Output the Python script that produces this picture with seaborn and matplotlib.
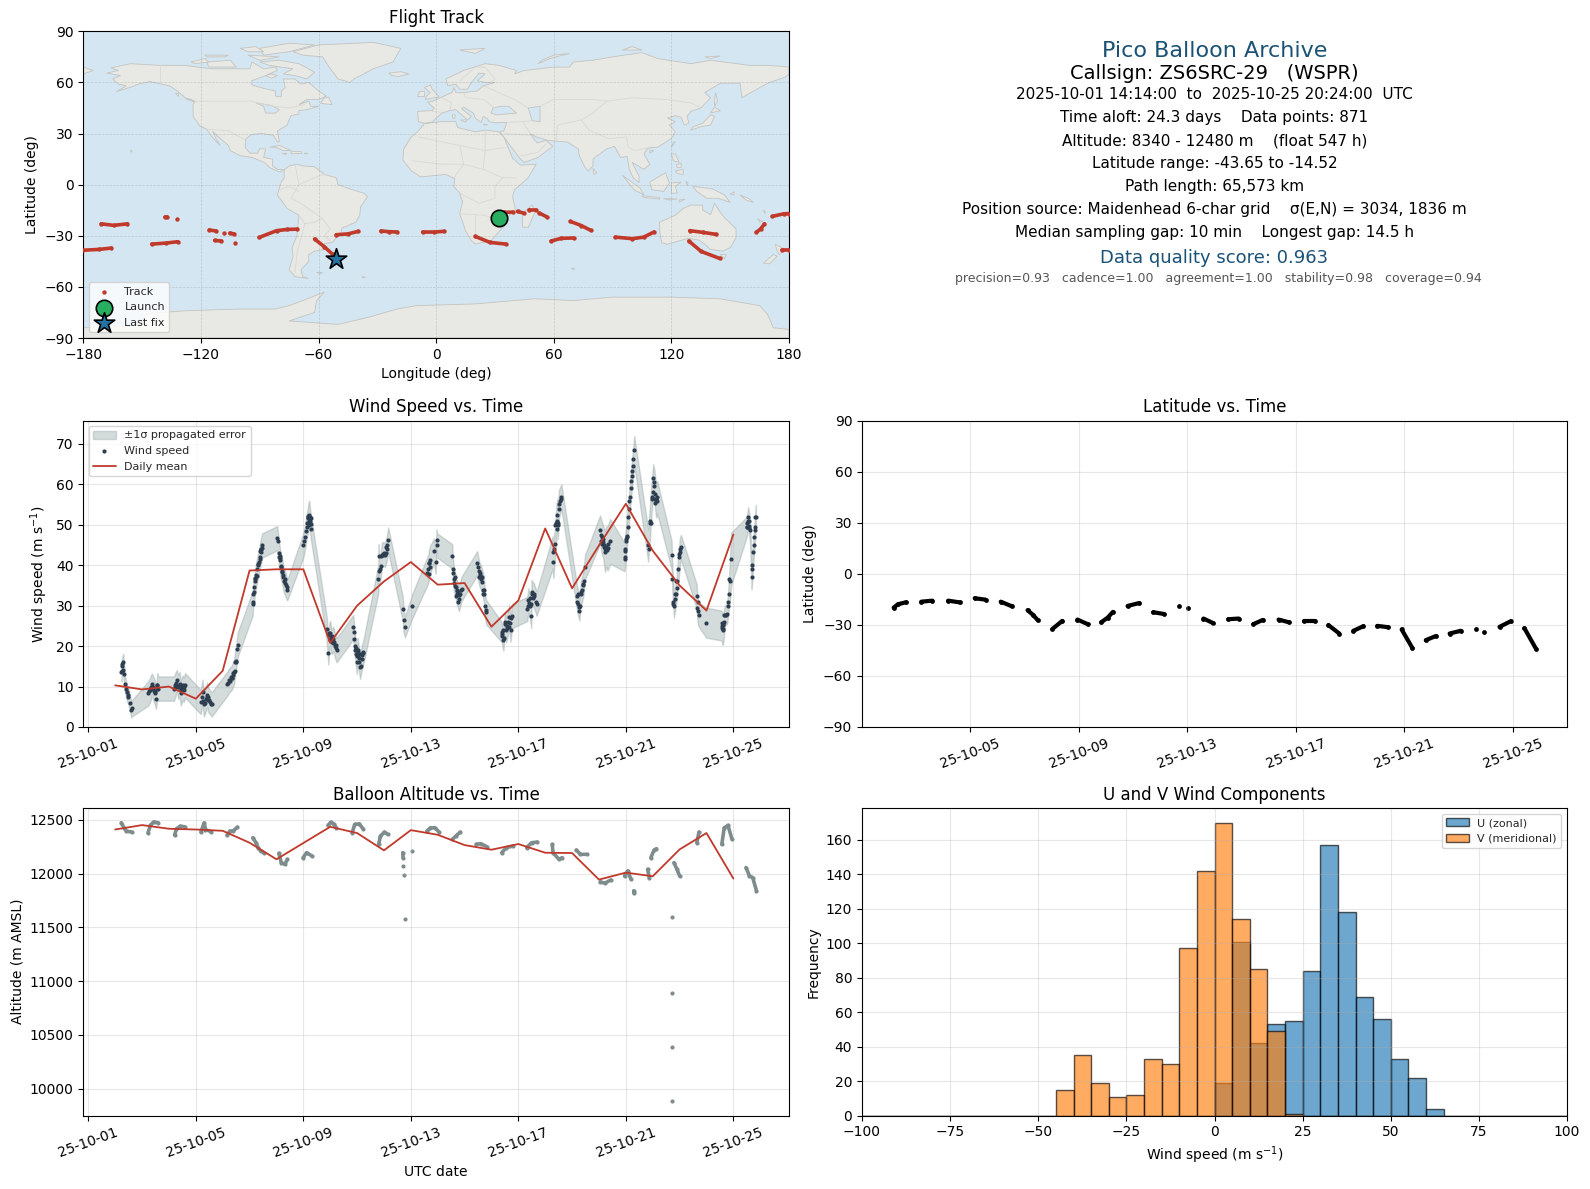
import numpy as np
import pandas as pd
import seaborn as sns
import matplotlib
matplotlib.use("Agg")
import matplotlib.pyplot as plt
import matplotlib.dates as mdates

RED = "#C0392B"
NAVY = "#2C3E50"
GREY = "#7F8C8D"
TITLE_BLUE = "#1A5276"

# flight track, one list per pass (deg)
track_lon = [
    [-180, -172, -165.7], [-170.9, -164.5, -157.5], [-145.1, -138, -131.8], [-138.5, -137.5], [-132],
    [-115.8, -112.3], [-108.3], [-105.3, -103], [-113, -109.5], [-102.5],
    [-90.3, -81.4, -76, -70.9], [-62, -57, -52.8], [-51, -45, -39.7], [-28.2, -24, -20], [-6.9, -1, 4.1],
    [20, 27.5, 35.7], [34.5, 39.2], [41.5, 44.6], [47.4, 50.9], [52.6, 56.3],
    [68.5, 74, 79], [58.6, 63.8, 70.1], [91.4, 100.1, 105.9, 111.1], [129.4, 136, 143],
    [128.9, 135.2, 144.6], [163.3, 165.5, 167.5], [171.5, 177.4, 180], [176.2, 180],
]
track_lat = [
    [-38.5, -38, -37.2], [-23, -23.9, -23], [-34.9, -34.3, -33.5], [-19, -19], [-20.2],
    [-26.6, -27.2], [-28.4], [-28.4, -29], [-32.7, -33.1], [-34.3],
    [-31, -27, -26.3, -26.1], [-31.9, -36.5, -40.9], [-29.4, -28.9, -27.4], [-27.2, -27.6, -27.8], [-27.8, -27.8, -27.4],
    [-30.4, -33.9, -34.9], [-16.3, -16.1], [-15.7, -16.7], [-15.1, -15.1], [-16.7, -18.8],
    [-21.6, -24, -26.9], [-33.1, -31.5, -31.3], [-30.8, -31.7, -30.8, -27.8], [-27, -28, -29.2],
    [-33.1, -39.2, -43.3], [-28, -26, -23], [-18.6, -17.1, -17], [-38.2, -38.2],
]
launch_lon, launch_lat = 32.2, -19.6
last_lon, last_lat = -51.0, -43.6

# coastline outlines, lon/lat vertices
land_polygons = [
    # North America
    [(-168, 65.5), (-162, 67), (-166, 68.5), (-156, 71), (-141, 70), (-128, 70), (-115, 68), (-108, 68), (-95, 68), (-94, 72), (-88, 68),
     (-82, 69), (-81, 67), (-87, 64), (-94, 61), (-94, 58.5), (-88, 56.5), (-82, 55), (-82, 52), (-79, 51.5), (-79, 55),
     (-77, 57), (-78, 62), (-72, 62), (-69, 59), (-65, 60), (-60, 55), (-56, 52), (-60, 50), (-66, 50), (-70, 47),
     (-65, 49), (-64, 46), (-60, 46), (-66, 44), (-70, 43.5), (-70, 41.5), (-74, 40.5), (-75, 38), (-76, 35), (-81, 31.5),
     (-80, 25.5), (-81, 25), (-83, 29), (-89, 30), (-94, 29.5), (-97, 27), (-97.5, 22), (-95, 18.5), (-91, 18.5), (-90, 21),
     (-87, 21), (-88, 16), (-83.5, 15), (-83.5, 11), (-81, 9), (-77.5, 8.7), (-80, 7.5), (-85, 10), (-87.5, 13), (-94, 16),
     (-100, 17), (-105, 20), (-106, 23), (-112, 29), (-114, 31.5), (-112, 26), (-110, 23), (-112, 25), (-115, 29), (-117, 32.5),
     (-120.5, 34.5), (-124, 40), (-124, 47), (-123, 49), (-128, 51), (-132, 55), (-136, 58), (-146, 60.5), (-152, 59),
     (-155, 57.5), (-163, 54.7), (-158, 58), (-162, 59), (-165, 62), (-161, 64)],
    [(-80, 73), (-70, 71), (-62, 66), (-66, 62), (-72, 64), (-78, 65), (-73, 68), (-85, 70), (-90, 72)],
    [(-117, 72), (-105, 73), (-102, 69), (-116, 69)],
    [(-90, 80), (-75, 83), (-62, 82), (-75, 78), (-88, 76)],
    [(-125, 72), (-118, 74), (-116, 72), (-123, 71)],
    [(-96, 76), (-80, 75), (-90, 73)],
    [(-118, 76), (-106, 76), (-108, 75), (-117, 75)],
    [(-100, 80), (-92, 81), (-88, 78), (-96, 78)],
    [(-84, 65), (-81, 64), (-84, 62.5), (-87, 64)],
    [(-59, 47.7), (-53, 47), (-55, 51.5), (-57.5, 50.5)],
    [(-73, 78), (-60, 82), (-32, 83.5), (-18, 80), (-22, 72), (-32, 68), (-42, 62), (-44, 60), (-50, 62), (-54, 68), (-58, 75), (-68, 76)],
    [(-85, 22), (-80, 23), (-74, 20), (-78, 20), (-82, 22)],
    [(-74, 19.5), (-69, 19.5), (-68.5, 18.3), (-74, 18.2)],
    [(-78.4, 18.4), (-76.2, 18.2), (-77, 17.8)],
    [(-67.2, 18.5), (-65.6, 18.4), (-66, 18)],
    [(-24, 65.5), (-18, 66.3), (-14, 65), (-19, 63.5), (-22.5, 64)],
    [(-156, 20.2), (-155, 19.7), (-155.6, 19)],
    [(-133, 54), (-131.5, 54), (-131.5, 52)],
    [(-128, 50.5), (-125, 50), (-123.5, 48.5)],
    # South America
    [(-77.5, 8.7), (-75, 11), (-71, 12), (-68, 11), (-62, 10.5), (-57, 6), (-51, 4), (-50, 0), (-44, -2.5), (-37, -5),
     (-35, -7), (-38.5, -13), (-39, -18), (-41, -22), (-48, -25.5), (-48.5, -28), (-53, -34), (-57, -34.5), (-57, -38), (-62, -39),
     (-65, -41), (-65, -45), (-69, -50), (-68, -54), (-65, -55), (-72, -54), (-75, -50), (-73, -42), (-73.5, -37), (-71, -30),
     (-70, -18), (-76, -14), (-81, -6), (-80, -2), (-79, 1.5), (-77.5, 4)],
    [(-61, -51.5), (-58, -51.5), (-59, -52.3)],
    [(-38, -54), (-36, -54.2), (-37, -54.8)],
    # Africa
    [(-6, 35.8), (3, 37), (10, 37), (11, 33.5), (20, 31), (25, 32), (32, 31), (34.5, 28), (37, 21), (39, 15.5),
     (43, 11.5), (51, 12), (47, 4), (40, -3), (39, -7), (40.5, -15), (35, -20), (35, -24), (32.5, -27), (28, -33),
     (20, -34.8), (18, -33), (15, -27), (12, -17), (13.5, -10), (12, -5), (9, -1), (9.5, 3.5), (5, 6), (-4, 5),
     (-8, 4.5), (-13, 8.5), (-17, 14.5), (-16.5, 21), (-13, 27.5), (-9.5, 31)],
    [(49, -12), (50.5, -16), (47, -25), (44, -25), (44, -17)],
    # Eurasia
    [(-9, 37), (-6, 36), (-2, 36.8), (0, 39), (3, 42), (7, 43.5), (10, 44), (12, 42), (16, 38), (18, 40),
     (13, 44.5), (14, 45.5), (19, 42), (20, 39), (23, 36.5), (24, 40), (26, 39), (27, 37), (30, 36.3), (36, 36.5),
     (35, 33), (34.5, 31.5), (32.5, 31), (34.5, 28), (39, 21), (43, 15), (45, 13), (52, 16), (59.5, 22.5), (56, 26),
     (51.5, 24.5), (50, 26.5), (48, 30), (51, 28), (57, 26), (67, 25), (72.5, 21), (73, 17), (76, 10), (77.5, 8),
     (80, 11), (80, 15), (87, 21), (91, 22.5), (94, 16), (97.5, 16.5), (98.5, 9), (100.5, 4), (103.5, 1.3), (103.5, 5),
     (100, 13), (103, 11), (106, 9), (109, 12), (106, 18), (108, 21.5), (113, 22), (120, 27), (122, 31), (119, 35),
     (122, 37), (118, 39), (122, 40.5), (125, 39.5), (126.5, 35), (129, 36), (128, 40), (130, 43), (135, 45), (140, 51),
     (137, 54), (145, 59.5), (155, 59.5), (156, 51), (162, 55), (170, 60), (178, 63), (180, 65), (180, 69), (170, 70),
     (160, 70), (140, 73), (130, 71), (113, 74), (105, 77.5), (90, 75), (80, 73), (70, 72), (68, 69), (60, 69),
     (45, 67), (40, 65), (41, 67), (32, 70), (25, 71), (14, 67), (5, 62), (6, 58), (10, 59), (12, 56),
     (16, 56), (18, 60), (22, 65.5), (25, 65), (21, 61), (25, 60), (30, 60), (24, 58), (21, 55), (14, 54),
     (10, 54), (9, 57), (8, 54), (4, 52), (-1.5, 49), (-4.5, 48.5), (-1, 45), (-2, 43.5), (-9.5, 43)],
    [(-180, 65), (-175, 67), (-180, 69)],
    [(-5.5, 50), (1.5, 51.5), (-2, 56), (-3, 58.5), (-6, 57), (-3, 54), (-5, 52)],
    [(-10, 52), (-6, 52), (-6, 55), (-9, 55)],
    [(130, 32), (135, 34), (140, 35), (142, 40), (140, 41), (136, 36), (131, 34)],
    [(140, 42), (145, 43.5), (142, 45.5)],
    [(142, 46), (143.5, 49), (142.5, 54), (142, 50)],
    [(120, 22), (122, 25), (121, 25)],
    [(109, 18.5), (111, 20), (109, 20)],
    [(80, 9.5), (82, 7), (80.5, 6)],
    [(120, 18), (122, 18), (124, 13), (121, 14)],
    [(122, 8), (126, 9), (126, 6), (123, 6.5)],
    [(122.5, 11.5), (125, 12.5), (125, 10), (123, 10)],
    [(109, 1.5), (117, 7), (119, 1), (116, -4), (110, -3)],
    [(95, 5.5), (104, -2), (106, -6), (101, -3)],
    [(105, -6.5), (114, -7.5), (114, -8.5), (106, -7.5)],
    [(120, 1), (125, 1.5), (122, -1), (123, -5), (120, -5)],
    [(116, -8.2), (120, -8.3), (123, -8.4), (119, -9)],
    [(124, -9), (127, -8.5), (124, -10.2)],
    [(127.5, 2), (128.5, 1), (128, -0.8)],
    [(131, -1), (141, -2.5), (147, -6), (150, -10.5), (144, -8), (138, -8), (133, -4)],
    [(150, -5.5), (152, -4.2), (152, -6)],
    [(155, -6), (160, -8.5), (162, -10.5), (158, -9)],
    [(164, -20), (167, -22), (165, -21.8)],
    [(167, -15), (168, -16), (167.5, -17)],
    [(177, -17.5), (178.7, -18), (177.5, -18.3)],
    [(114, -22), (122, -18), (126, -14), (130, -12), (136, -12), (136, -15), (140, -17.5), (142, -11), (146, -18), (153, -26),
     (153, -31), (150, -37), (146, -39), (140, -38), (137, -35), (134, -32.5), (129, -31.5), (124, -33), (118, -35), (115, -34), (114, -27)],
    [(145, -41), (148, -41), (147, -43.5)],
    [(173, -35), (178, -38), (175, -41), (174, -39)],
    [(172, -41), (174, -42), (170, -46.5), (167, -46)],
    [(12, 79), (25, 80), (20, 77)],
    [(52, 71), (58, 74), (68, 77), (60, 76), (54, 73)],
    [(95, 79), (105, 79), (100, 81)],
    [(137, 75), (145, 75.5), (140, 74)],
    [(12.5, 38), (15.5, 38), (15, 36.7)],
    [(8.3, 41), (9.7, 41), (9.5, 39), (8.5, 39)],
    [(24, 35.4), (26.2, 35.2), (24.5, 35)],
    [(69, -49), (70.5, -49), (70, -50)],
    # Antarctica
    [(-180, -90), (-180, -84), (-155, -83), (-146, -75.5), (-128, -74), (-100, -73), (-82, -73), (-75, -71), (-68, -68), (-57, -63),
     (-61, -68), (-62, -75), (-75, -80), (-50, -82), (-35, -78), (-20, -73), (-10, -71), (20, -70), (50, -67), (70, -68),
     (90, -66), (120, -66), (145, -67), (165, -71), (169, -76), (172, -84), (180, -85), (180, -90)],
]
inland_water = [
    [(28, 42), (29, 45), (33, 46), (37, 46), (41, 42), (36, 41.5), (31, 41)],
    [(47, 45), (53, 46), (53, 37), (49, 37.5)],
    [(-92, 48), (-84, 46.5), (-80, 44), (-82, 42), (-87, 42), (-88, 46)],
]
border_lines = [
    [(-123, 49), (-95, 49), (-83, 46), (-75, 45), (-67, 47)], [(-141, 70), (-141, 60)], [(-117, 32.5), (-106, 31.7), (-97, 26)],
    [(-72, 12), (-70, 0), (-74, -8), (-69, -11), (-58, -20), (-54, -26), (-57, -30), (-53, -34)], [(-70, 0), (-60, 5), (-57, 6)],
    [(-70, -18), (-67, -23), (-71, -40), (-72, -52)], [(-58, -20), (-62, -22), (-67, -23)], [(-80, -3), (-75, -1), (-70, -4)],
    [(-9, 28), (12, 23), (25, 20), (36, 22)], [(25, 32), (25, 20), (24, 9), (34, 4), (41, 4)], [(12, 23), (14, 12), (3, 12), (-12, 14)],
    [(14, 12), (24, 9)], [(9, 4), (14, 12)], [(12, -5), (22, -11), (30, -8), (30, -1), (34, 4)], [(12, -17), (25, -18), (33, -22)], [(20, -29), (20, -18)],
    [(-2, 43), (3, 42.5)], [(3, 51), (8, 48), (7, 44)], [(14, 54), (15, 51), (24, 50), (30, 45)], [(24, 58), (28, 56), (40, 50), (47, 45)],
    [(53, 46), (60, 50), (80, 50), (87, 49)], [(87, 49), (100, 51), (117, 50), (130, 48), (135, 45)], [(87, 49), (80, 42), (74, 38), (62, 35), (61, 25)],
    [(74, 38), (78, 32), (88, 27), (97, 28), (98, 22), (101, 20), (108, 21.5)], [(36, 36.5), (44, 37), (48, 30)], [(44, 37), (49, 37.5)],
    [(35, 30), (48, 29)], [(43, 17), (52, 19), (56, 24)], [(20, 69), (25, 69), (30, 62), (28, 60)], [(12, 61), (20, 69)],
]

# wind speed samples, sorted by time (day of October, m/s, 1 sigma)
wind_day = [
    2.24, 2.27, 2.30, 2.33, 2.36, 2.43, 2.49, 2.55, 2.60, 2.62,
    3.23, 3.29, 3.33, 3.36, 3.42, 3.47, 3.52, 3.57, 3.60,
    4.19, 4.24, 4.29, 4.35, 4.40, 4.44, 4.51, 4.55, 4.60,
    5.18, 5.25, 5.30, 5.38, 5.42, 5.47, 5.53, 5.59,
    6.17, 6.25, 6.33, 6.38, 6.42, 6.48, 6.54, 6.56,
    7.11, 7.14, 7.18, 7.21, 7.24, 7.29, 7.35, 7.38, 7.41, 7.44, 7.47,
    8.03, 8.11, 8.13, 8.16, 8.22, 8.25, 8.28, 8.35, 8.40,
    9.00, 9.06, 9.12, 9.15, 9.19, 9.22, 9.25, 9.29,
    9.87, 9.93, 9.97, 10.00, 10.05, 10.12, 10.18, 10.24,
    10.86, 10.89, 10.94, 10.99, 11.02, 11.05, 11.11, 11.17, 11.23,
    11.79, 11.80, 11.83, 11.88, 11.92, 11.98, 12.04, 12.10, 12.16,
    12.70, 12.73, 12.78, 13.06,
    13.65, 13.68, 13.71, 13.86, 13.92, 13.96, 13.98,
    14.54, 14.56, 14.60, 14.67, 14.70, 14.73, 14.79, 14.84, 14.89,
    15.47, 15.52, 15.56, 15.60, 15.66, 15.72, 15.76, 15.80,
    16.38, 16.41, 16.44, 16.50, 16.55, 16.59, 16.66, 16.71, 16.76,
    17.33, 17.37, 17.43, 17.48, 17.49, 17.54, 17.58, 17.68,
    18.28, 18.30, 18.36, 18.42, 18.45, 18.47, 18.51, 18.60,
    19.17, 19.23, 19.27, 19.32, 19.37, 19.42, 19.48,
    20.04, 20.10, 20.16, 20.22, 20.27, 20.32, 20.42,
    20.95, 20.98, 21.03, 21.09, 21.15, 21.20, 21.24, 21.28, 21.31,
    21.83, 21.90, 21.96, 22.02, 22.06, 22.12, 22.15, 22.17,
    22.70, 22.73, 22.79, 22.83, 22.89, 22.95, 23.01, 23.05,
    23.63, 23.67, 23.71, 23.99,
    24.56, 24.60, 24.62, 24.69, 24.77, 24.81, 24.87, 24.92,
    25.49, 25.52, 25.55, 25.62, 25.68, 25.70, 25.74, 25.80, 25.84,
]
wind_speed = [
    13.8, 15, 16.1, 13, 10.7, 8.7, 7.5, 6, 4.3, 4.6,
    8.3, 9.1, 9.8, 10.7, 9.5, 8.6, 7, 10.3, 9.5,
    9.5, 10.4, 11.6, 9.9, 10.6, 8.3, 9.7, 9.2, 10.3,
    6.2, 8.7, 5.6, 7, 8, 6.6, 6.1, 5.6,
    10.7, 11.6, 12.1, 12.9, 13.6, 16.3, 19.4, 20.4,
    30.5, 32.9, 34.6, 36, 37.5, 39.1, 40.9, 42, 43.2, 44, 44.9,
    46.7, 42, 41.2, 39.9, 38.3, 37, 36.2, 35, 33.8,
    44.9, 46.9, 49.4, 50.5, 51.9, 52.5, 51, 49,
    24.3, 18.4, 22.7, 23.2, 21, 21.8, 20, 19,
    24.7, 21.8, 19, 16.1, 19, 17.7, 14.9, 16.9, 18.4,
    36.6, 42.2, 38.7, 39.9, 42.6, 42.8, 42.6, 44, 46.3,
    29.2, 26.5, 24.7, 30,
    39.1, 40.5, 41.2, 43.6, 40.9, 46.3, 44.9,
    42.2, 39.1, 36.6, 34.6, 33.6, 32.9, 31.7, 33, 34.2,
    40.5, 38.7, 37.6, 37.1, 35.8, 33.8, 30, 28.4,
    23.5, 22.4, 21.4, 25.5, 24, 25.1, 27.2, 24.1, 27.4,
    29.2, 31.3, 30, 27.4, 33.4, 32.8, 32.5, 30.5,
    43.2, 40.9, 45.3, 51, 52.5, 50.5, 55.1, 57,
    32.5, 30.5, 28.8, 32.9, 34, 35.4, 39.5,
    48.8, 46.9, 45.7, 43.4, 44.6, 44.2, 45.9,
    42, 44, 47.3, 51.9, 56.8, 60.9, 63.4, 66.2, 68.5,
    44.9, 51, 57, 61.5, 59.7, 56.2, 55.8, 56.8,
    42.6, 36.6, 30, 31.7, 34.3, 39.1, 43.2, 44.5,
    32.4, 28.8, 27.8, 25.8,
    25.1, 24, 24.3, 27.6, 28, 30.9, 36.2, 41.6,
    49.4, 50.5, 51.9, 48.6, 37.1, 39.1, 43.2, 48.6, 51.9,
]
wind_sigma = [
    2.5, 2.5, 2, 2.5, 2, 2, 2, 2, 2, 2,
    3, 3, 3, 2.5, 3, 3, 2.5, 3, 3,
    3, 3, 2.5, 3, 3, 3, 3, 3, 3,
    3, 3, 3, 3, 3, 3, 3, 3,
    3, 3, 3, 3, 3, 3, 3, 3,
    3, 3, 3, 3, 3, 3, 3, 3, 3, 3, 3,
    3, 3, 3, 3, 3, 3, 3, 3, 2.5,
    3, 3, 3, 3, 3.5, 3.5, 3, 3,
    3, 3, 3, 3, 3, 3, 3, 3,
    3, 3, 3, 3, 3, 3, 3, 3, 3,
    3.5, 3, 3.5, 3, 3, 3, 3, 3, 3,
    3, 3, 2.5, 3,
    3.5, 3.5, 3.5, 3, 3, 2.5, 3,
    3, 3, 3, 3, 3, 3, 3, 3, 3,
    3, 3, 3, 3, 3, 3, 3, 3,
    2.5, 2.5, 2.5, 3, 3, 3, 3, 3, 3,
    3, 3, 3, 3, 3, 3, 3, 3,
    4, 4, 4, 4, 4, 4, 3.5, 3,
    3, 3, 2.5, 3, 3, 3, 3,
    3.5, 4, 4, 5, 5, 5.5, 5.5,
    3.5, 4, 3.5, 3.5, 3.5, 3.5, 3.5, 3.5, 3.5,
    4, 4, 4, 3.5, 4, 4, 4, 4,
    3.5, 3, 3, 3, 3, 3.5, 3.5, 3,
    3, 3, 3, 3.7,
    3.7, 3.7, 3.7, 2.5, 2.5, 3, 5, 6.5,
    2.5, 2.5, 2.5, 3, 3, 3, 3, 3, 3,
]
# further samples inside the dense clusters (day, m/s)
wind_extra = [
    (2.26, 15.5), (2.22, 13.5), (2.28, 14), (2.40, 9.5), (2.46, 8),
    (3.26, 8.8), (3.31, 9.5), (3.39, 9.8), (3.45, 9), (3.49, 8.5), (3.54, 9.5), (3.55, 10.5),
    (4.21, 10), (4.26, 10.8), (4.32, 10.2), (4.38, 10), (4.46, 9.2), (4.48, 9.8), (4.53, 10.4), (4.57, 9.8),
    (5.22, 7.5), (5.28, 6.5), (5.35, 6), (5.40, 7.4), (5.44, 7.5), (5.50, 6.6), (5.56, 5.8),
    (6.2, 11), (6.28, 11.4), (6.3, 12.4), (6.36, 12), (6.4, 13.3), (6.44, 13.8), (6.46, 16), (6.5, 16),
    (7.13, 31), (7.16, 33.5), (7.19, 36.5), (7.22, 36.9), (7.26, 37.3), (7.31, 40.3), (7.33, 40), (7.37, 41.5), (7.4, 43.6), (7.43, 43.9), (7.46, 44.3),
    (8.04, 46), (8.1, 43), (8.12, 41.7), (8.14, 42.3), (8.18, 39.5), (8.2, 38.7), (8.24, 37.5), (8.3, 36.7), (8.32, 35.5), (8.38, 34.5),
    (9.04, 46), (9.1, 48.5), (9.16, 51.8), (9.18, 52.3), (9.2, 51), (9.21, 50), (9.24, 52), (9.27, 50.3), (9.28, 51.8),
    (9.9, 23), (9.95, 23.2), (9.99, 21.5), (10.02, 22), (10.08, 22.5), (10.1, 20.7), (10.15, 21), (10.2, 19.5), (10.22, 20.3),
    (10.87, 23.5), (10.92, 20), (10.96, 18), (10.97, 19.5), (11.0, 17.5), (11.03, 18.5), (11.07, 16), (11.09, 17), (11.13, 15.2), (11.15, 18), (11.2, 17.7), (11.21, 18.5),
    (11.85, 39), (11.9, 42.4), (11.95, 42.6), (12.0, 42.8), (12.02, 43), (12.06, 43), (12.08, 44.5), (12.12, 45),
    (13.62, 38), (13.66, 37.9), (13.69, 40.6), (13.72, 39.6),
    (14.57, 38), (14.62, 35.5), (14.63, 37), (14.65, 34.8), (14.69, 32.5), (14.72, 34), (14.75, 31), (14.77, 33.5), (14.81, 32.6), (14.87, 33.8),
    (15.49, 39.5), (15.54, 37), (15.58, 38), (15.62, 36.5), (15.64, 37.2), (15.68, 34), (15.7, 33), (15.74, 33), (15.78, 29),
    (16.39, 23), (16.42, 24), (16.46, 22), (16.52, 26), (16.57, 24.5), (16.62, 26), (16.64, 24.8), (16.68, 25.8), (16.73, 27),
    (17.35, 30), (17.4, 30.7), (17.45, 32), (17.47, 30.5), (17.52, 33), (17.56, 31.8), (17.6, 33), (17.65, 31),
    (18.33, 44), (18.38, 50), (18.4, 50.5), (18.43, 49), (18.49, 50), (18.5, 54), (18.54, 55.8), (18.57, 56.5),
    (19.19, 31), (19.21, 33), (19.25, 29.7), (19.29, 30), (19.34, 33.5), (19.39, 35), (19.44, 36),
    (20.06, 47.5), (20.08, 46), (20.12, 45.3), (20.14, 46.5), (20.18, 44.5), (20.2, 45), (20.24, 44), (20.3, 43.7), (20.35, 45.3),
    (20.96, 43.5), (20.97, 41.5), (21.0, 46), (21.02, 46.5), (21.05, 47), (21.07, 49.5), (21.12, 54), (21.13, 56), (21.18, 59), (21.22, 62), (21.26, 64.5),
    (21.85, 44), (21.88, 50.5), (21.92, 50.5), (21.98, 56.5), (22.0, 58), (22.04, 60.5), (22.08, 56.5), (22.09, 57.5), (22.1, 55.5), (22.14, 56.5),
    (22.75, 31), (22.77, 30.5), (22.81, 33), (22.85, 33), (22.87, 36), (22.92, 36), (22.97, 42), (22.99, 42.8), (23.03, 44),
    (23.65, 29.5), (23.69, 30.8),
    (24.57, 24.5), (24.58, 25.6), (24.61, 25.3), (24.63, 25.5), (24.64, 26), (24.66, 27.7), (24.72, 27.8), (24.79, 30), (24.83, 33), (24.85, 36.5),
    (25.5, 49.5), (25.53, 51), (25.57, 49.3), (25.58, 49.8), (25.6, 51), (25.71, 40), (25.76, 45), (25.78, 47), (25.81, 49.5), (25.82, 52),
]
mean_days = [2, 3, 4, 5, 6, 7, 8, 9, 10, 11, 12, 13, 14, 15, 16, 17, 18, 19, 20, 21, 22, 23, 24, 25]
wind_mean = [10.3, 9.3, 10, 7, 13.9, 38.7, 39, 39, 20.8, 30, 36, 40.8, 35.2, 35.6, 24.8, 31.3, 49.1, 34.3, 44.9, 55.2, 43.6, 35, 28.8, 47.6]

# latitude, one list per pass
lat_day = [
    [2.17, 2.33, 2.61], [3.19, 3.6], [4.18, 4.6], [5.16, 5.56], [6.12, 6.53], [7.11, 7.3, 7.49], [8.03, 8.39], [8.95, 9.33],
    [9.83, 10.07, 10.26], [10.8, 11.23], [11.75, 12.13], [12.71], [13.04], [13.6, 13.96], [14.52, 14.9], [15.44, 15.79],
    [16.37, 16.75], [17.29, 17.7], [18.21, 18.61], [19.13, 19.5], [20.01, 20.42], [20.91, 21.31], [21.8, 22.17],
    [22.68, 23.09], [23.66], [23.96], [24.52, 24.93], [25.44, 25.86],
]
lat_deg = [
    [-19.9, -17.9, -16.8], [-16.4, -15.8], [-15.8, -16.8], [-14.4, -15.2], [-16.4, -19.1], [-21.4, -24, -27.3], [-32.4, -27.7], [-26.9, -29.6],
    [-28.5, -25.7, -22.4], [-18.9, -17.2], [-22.6, -23.6], [-18.7], [-19.9], [-26.3, -29], [-26.7, -26.3], [-29.6, -27.1],
    [-26.9, -28.5], [-27.5, -27.5], [-30.2, -35.1], [-33.5, -30.8], [-30.6, -31.4], [-32.7, -43.7], [-39, -36.6],
    [-35.1, -33.5], [-32.7], [-34.1], [-31.2, -27.9], [-32, -43.9],
]

# altitude, one list per pass
alt_day = [
    [2.23, 2.33, 2.42, 2.62], [3.22, 3.31, 3.43, 3.6], [4.21, 4.28, 4.42, 4.59], [5.19, 5.31, 5.36, 5.58], [6.16, 6.26, 6.38, 6.55],
    [7.12, 7.24, 7.32, 7.41, 7.53], [8.09, 8.18, 8.31, 8.41], [8.99, 9.12, 9.32], [9.92, 10.02, 10.14, 10.23], [10.82, 10.91, 11.08, 11.22],
    [11.8, 11.87, 12.02, 12.14], [12.7, 12.71], [12.72], [12.75], [12.77], [13.04], [13.6, 13.73, 13.9, 14.04], [14.55, 14.67, 14.84],
    [15.43, 15.6, 15.83], [16.38, 16.55, 16.8], [17.31, 17.49, 17.71], [18.26, 18.29, 18.51, 18.63], [19.16, 19.31, 19.54], [20.05, 20.22, 20.44],
    [20.95, 21.07, 21.19], [21.29, 21.3], [21.81, 21.87], [21.93, 22.05, 22.14], [22.72], [22.72], [22.71], [22.71], [22.79, 22.9, 23.0],
    [23.64, 23.72], [24.57, 24.66, 24.8, 24.95], [25.47, 25.6, 25.72, 25.86],
]
alt_m = [
    [12472, 12426, 12395, 12386], [12380, 12448, 12481, 12472], [12358, 12417, 12441, 12435], [12386, 12472, 12410, 12389], [12355, 12395, 12395, 12432],
    [12333, 12287, 12241, 12210, 12194], [12188, 12102, 12086, 12133], [12148, 12194, 12164], [12448, 12478, 12457, 12426], [12380, 12457, 12463, 12417],
    [12272, 12349, 12386, 12364], [12194, 12148], [12071], [11985], [11580], [12213], [12395, 12426, 12426, 12389], [12318, 12349, 12386],
    [12272, 12278, 12250], [12194, 12241, 12256], [12241, 12287, 12293], [12272, 12194, 12133, 12148], [12219, 12179, 12179], [11923, 11911, 11941],
    [11978, 12025, 11948], [11840, 11815], [12040, 11963], [12148, 12219, 12232], [11600], [10885], [10385], [9885], [12102, 12040, 11978],
    [12287, 12386], [12272, 12426, 12448, 12318], [12056, 11978, 11963, 11840],
]
alt_mean = [12410, 12451, 12417, 12410, 12398, 12287, 12133, 12284, 12435, 12377, 12216, 12404, 12361, 12265, 12222, 12275, 12194, 12191, 11944, 12009, 11975, 12225, 12377, 11954]

# histogram counts in 5 m/s bins, keyed by left bin edge
hist_edges = [-45, -40, -35, -30, -25, -20, -15, -10, -5, 0, 5, 10, 15, 20, 25, 30, 35, 40, 45, 50, 55, 60]
u_counts = [0, 0, 0, 0, 0, 0, 0, 0, 0, 19, 101, 42, 53, 55, 84, 157, 118, 69, 56, 33, 22, 4]
v_counts = [15, 35, 19, 11, 12, 33, 30, 97, 142, 170, 114, 85, 49, 1, 0, 0, 0, 0, 0, 0, 0, 0]

date_ticks = ["2025-10-01", "2025-10-05", "2025-10-09", "2025-10-13", "2025-10-17", "2025-10-21", "2025-10-25"]

info_lines = [
    ("Pico Balloon Archive", 16, TITLE_BLUE),
    ("Callsign: ZS6SRC-29   (WSPR)", 14, "black"),
    ("2025-10-01 14:14:00  to  2025-10-25 20:24:00  UTC", 11, "black"),
    ("Time aloft: 24.3 days    Data points: 871", 11, "black"),
    ("Altitude: 8340 - 12480 m    (float 547 h)", 11, "black"),
    ("Latitude range: -43.65 to -14.52", 11, "black"),
    ("Path length: 65,573 km", 11, "black"),
    ("Position source: Maidenhead 6-char grid    \u03c3(E,N) = 3034, 1836 m", 11, "black"),
    ("Median sampling gap: 10 min    Longest gap: 14.5 h", 11, "black"),
    ("Data quality score: 0.963", 13, TITLE_BLUE),
    ("precision=0.93   cadence=1.00   agreement=1.00   stability=0.98   coverage=0.94", 9, "#555555"),
]
info_baseline_y = [57, 79, 99.4, 122.4, 145.4, 168.4, 191.4, 214.4, 237.4, 263, 282]

W, H = 1590, 1189


def to_dates(days):
    return pd.Timestamp("2025-10-01") + pd.to_timedelta(np.asarray(days, dtype=float) - 1, unit="D")


def passes_frame(xs, ys):
    rows = [(i, x, y) for i, (px, py) in enumerate(zip(xs, ys)) for x, y in zip(px, py)]
    return pd.DataFrame(rows, columns=["pass", "x", "y"])


def axes_px(fig, left, right, top, bottom):
    return fig.add_axes([left / W, 1 - bottom / H, (right - left) / W, (bottom - top) / H])


def date_axis(ax, left_day, right_day):
    ax.set_xticks(pd.to_datetime(date_ticks))
    ax.set_xlim(to_dates([left_day])[0], to_dates([right_day])[0])
    ax.xaxis.set_major_formatter(mdates.DateFormatter("%y-%m-%d"))
    ax.tick_params(axis="x", rotation=20)
    ax.set_xlabel("")
    ax.grid(True, color="#B0B0B0", alpha=0.3)


sns.set_style("ticks", {"font.family": "DejaVu Sans"})
plt.rcParams["axes.axisbelow"] = "line"
plt.rcParams["xtick.direction"] = "out"
fig = plt.figure(figsize=(W / 100, H / 100), dpi=100)

ax_map = axes_px(fig, 83.3, 789, 31.3, 338)
ax_info = axes_px(fig, 862, 1567, 31.3, 338)
ax_wind = axes_px(fig, 83.3, 789, 420.5, 727)
ax_lat = axes_px(fig, 862, 1567, 420.5, 727)
ax_alt = axes_px(fig, 83.3, 789, 808, 1115.5)
ax_hist = axes_px(fig, 862, 1567, 808, 1115.5)

# map
ax_map.set_facecolor("#D4E6F1")
for poly in land_polygons:
    lons, lats = zip(*poly)
    ax_map.fill(lons, lats, facecolor="#E8E8E4", edgecolor="#C4C4C0", linewidth=0.6, zorder=1)
for poly in inland_water:
    lons, lats = zip(*poly)
    ax_map.fill(lons, lats, facecolor="#D4E6F1", edgecolor="#C4C4C0", linewidth=0.6, zorder=1.1)
for line in border_lines:
    lons, lats = zip(*line)
    ax_map.plot(lons, lats, color="#D8D8D4", linewidth=0.6, zorder=1.2)
track = passes_frame(track_lon, track_lat)
sns.lineplot(data=track, x="x", y="y", units="pass", estimator=None, sort=False, color=RED,
             linewidth=2.6, solid_capstyle="round", ax=ax_map, zorder=3, legend=False)
sns.scatterplot(data=track, x="x", y="y", color=RED, s=10, linewidth=0, ax=ax_map, zorder=3, label="Track")
ax_map.scatter([launch_lon], [launch_lat], s=140, color="#27AE60", edgecolor="black", linewidth=1.2, zorder=5, label="Launch")
ax_map.scatter([last_lon], [last_lat], s=240, marker="*", color="#2471A3", edgecolor="black", linewidth=1.2, zorder=6, label="Last fix")
ax_map.set_xlim(-180, 180)
ax_map.set_ylim(-90, 90)
ax_map.set_xticks(range(-180, 181, 60))
ax_map.set_yticks(range(-90, 91, 30))
ax_map.grid(True, color="#808080", alpha=0.3, linewidth=0.5, linestyle="--", zorder=2)
ax_map.set_title("Flight Track", fontsize=12)
ax_map.set_xlabel("Longitude (deg)")
ax_map.set_ylabel("Latitude (deg)")
ax_map.legend(loc="lower left", fontsize=8)

# summary text
ax_info.axis("off")
for i, ((text, size, color), py) in enumerate(zip(info_lines, info_baseline_y)):
    x_pos = 0.5057 if i == len(info_lines) - 1 else 0.5
    ax_info.text(x_pos, (338 - py) / (338 - 31.3), text, fontsize=size, color=color, ha="center", va="baseline",
                 transform=ax_info.transAxes)

# wind
wind = pd.DataFrame({"t": to_dates(wind_day), "speed": wind_speed, "sigma": wind_sigma})
extra_days, extra_speeds = zip(*wind_extra)
wind_dots = pd.DataFrame({"t": to_dates(list(wind_day) + list(extra_days)), "speed": list(wind_speed) + list(extra_speeds)})
ax_wind.fill_between(wind["t"], wind["speed"] - wind["sigma"], wind["speed"] + wind["sigma"],
                     color="#95A5A6", alpha=0.4, label="\u00b11\u03c3 propagated error")
sns.scatterplot(data=wind_dots, x="t", y="speed", color=NAVY, s=9, linewidth=0, ax=ax_wind, label="Wind speed", zorder=3)
sns.lineplot(x=to_dates(mean_days), y=wind_mean, color=RED, linewidth=1.3, ax=ax_wind, label="Daily mean", zorder=4)
date_axis(ax_wind, 0.814, 27.07)
ax_wind.set_ylim(0, 75.8)
ax_wind.set_yticks(range(0, 71, 10))
ax_wind.set_title("Wind Speed vs. Time", fontsize=12)
ax_wind.set_ylabel("Wind speed (m s$^{-1}$)")
ax_wind.legend(loc="upper left", fontsize=8)

# latitude
lat = passes_frame(lat_day, lat_deg)
lat["t"] = to_dates(lat["x"])
sns.lineplot(data=lat, x="t", y="y", units="pass", estimator=None, sort=False, color="black",
             linewidth=3, solid_capstyle="round", ax=ax_lat, legend=False)
sns.scatterplot(data=lat, x="t", y="y", color="black", s=12, linewidth=0, ax=ax_lat)
date_axis(ax_lat, 1.003, 27.01)
ax_lat.set_ylim(-90, 90)
ax_lat.set_yticks(range(-90, 91, 30))
ax_lat.set_title("Latitude vs. Time", fontsize=12)
ax_lat.set_ylabel("Latitude (deg)")

# altitude
alt = passes_frame(alt_day, alt_m)
alt["t"] = to_dates(alt["x"])
sns.lineplot(data=alt, x="t", y="y", units="pass", estimator=None, sort=False, color=GREY,
             linewidth=2.6, solid_capstyle="round", ax=ax_alt, legend=False)
sns.scatterplot(data=alt, x="t", y="y", color=GREY, s=9, linewidth=0, ax=ax_alt)
sns.lineplot(x=to_dates(mean_days), y=alt_mean, color=RED, linewidth=1.3, ax=ax_alt, zorder=4)
date_axis(ax_alt, 0.814, 27.07)
ax_alt.set_ylim(9750, 12610)
ax_alt.set_title("Balloon Altitude vs. Time", fontsize=12)
ax_alt.set_xlabel("UTC date")
ax_alt.set_ylabel("Altitude (m AMSL)")

# components
hist = pd.DataFrame({"left": hist_edges, "U (zonal)": u_counts, "V (meridional)": v_counts})
hist["centre"] = hist["left"] + 2.5
sns.histplot(data=hist, x="centre", weights="U (zonal)", binwidth=5, binrange=(-100, 100), color="#1F77B4", alpha=0.65,
             edgecolor=(0, 0, 0, 0.65), linewidth=1, ax=ax_hist, label="U (zonal)")
sns.histplot(data=hist, x="centre", weights="V (meridional)", binwidth=5, binrange=(-100, 100), color="#FF7F0E", alpha=0.65,
             edgecolor=(0, 0, 0, 0.65), linewidth=1, ax=ax_hist, label="V (meridional)")
ax_hist.set_xlim(-100, 100)
ax_hist.set_ylim(0, 178.5)
ax_hist.set_yticks(range(0, 161, 20))
ax_hist.grid(True, color="#B0B0B0", alpha=0.3)
ax_hist.set_title("U and V Wind Components", fontsize=12)
ax_hist.set_xlabel("Wind speed (m s$^{-1}$)")
ax_hist.set_ylabel("Frequency")
ax_hist.legend(loc="upper right", fontsize=8)

for ax in [ax_map, ax_wind, ax_lat, ax_alt, ax_hist]:
    for spine in ax.spines.values():
        spine.set_linewidth(0.8)
        spine.set_visible(True)
        spine.set_color("black")
    ax.tick_params(colors="black", length=3.5, width=0.8, labelsize=10)
    ax.xaxis.label.set_color("black")
    ax.yaxis.label.set_color("black")
    ax.title.set_color("black")

fig.savefig("out.png", dpi=100)
